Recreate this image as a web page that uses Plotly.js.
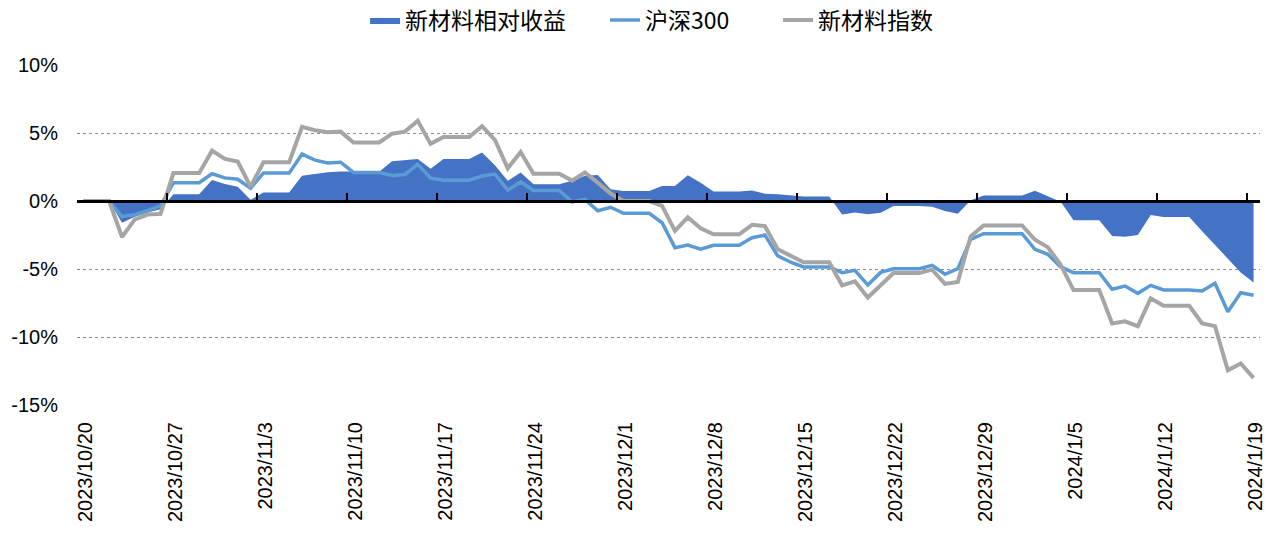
<!DOCTYPE html>
<html>
<head>
<meta charset="utf-8">
<script src="https://cdn.plot.ly/plotly-3.0.1.min.js"></script>
<style>
html,body{margin:0;padding:0;background:#fff;}
#chart{width:1269px;height:535px;}
</style>
</head>
<body>
<div id="chart"></div>
<script>
// Calendar days 2023/10/20 .. 2024/1/19 (weekend / holiday values carried)
const startDate = '2023-10-20';
const dayCount = 92;

const seriesNames = ['新材料相对收益', '沪深300', '新材料指数'];

// 新材料相对收益 (%)
const relReturn = [0, 0, 0,
  -1.6, -1.15, -0.85, -0.6, 0.5, 0.5, 0.5,
  1.55, 1.25, 1.05, 0.1, 0.62, 0.62, 0.62,
  1.85, 2.0, 2.12, 2.17, 2.15, 2.15, 2.15,
  2.93, 3.02, 3.08, 2.38, 3.08, 3.08, 3.08,
  3.57, 2.63, 1.48, 2.1, 1.23, 1.23, 1.23,
  1.48, 1.85, 1.92, 0.86, 0.74, 0.74, 0.74,
  1.1, 1.1, 1.9, 1.35, 0.7, 0.7, 0.7,
  0.78, 0.54, 0.49, 0.42, 0.33, 0.33, 0.33,
  -1.0, -0.85, -0.97, -0.86, -0.36, -0.36, -0.36,
  -0.42, -0.74, -0.93, 0.05, 0.4, 0.4, 0.4,
  0.4, 0.76, 0.38, -0.05, -1.42, -1.42, -1.42,
  -2.58, -2.63, -2.5, -1.03, -1.17, -1.17, -1.17,
  -2.22, -3.22, -4.3, -5.25, -6.0];

// 沪深300 (%)
const hs300 = [0, 0, 0,
  -1.15, -1.0, -0.7, -0.35, 1.35, 1.35, 1.35,
  2.0, 1.7, 1.6, 0.95, 2.05, 2.05, 2.05,
  3.45, 3.0, 2.8, 2.85, 2.1, 2.1, 2.1,
  1.88, 1.95, 2.7, 1.68, 1.53, 1.53, 1.53,
  1.84, 1.98, 0.8, 1.4, 0.77, 0.77, 0.77,
  -0.06, 0.12, -0.72, -0.46, -0.9, -0.9, -0.9,
  -1.6, -3.43, -3.24, -3.55, -3.26, -3.26, -3.26,
  -2.7, -2.5, -4.04, -4.5, -4.85, -4.85, -4.85,
  -5.27, -5.1, -6.18, -5.25, -4.98, -4.98, -4.98,
  -4.73, -5.39, -4.98, -2.82, -2.4, -2.4, -2.4,
  -2.4, -3.55, -3.92, -4.85, -5.27, -5.27, -5.27,
  -6.49, -6.25, -6.79, -6.2, -6.54, -6.54, -6.54,
  -6.62, -6.05, -8.14, -6.74, -6.93];

// 新材料指数 (%)
const newMaterial = [0, 0, 0,
  -2.65, -1.35, -1.0, -0.95, 2.05, 2.05, 2.05,
  3.7, 3.1, 2.9, 1.05, 2.85, 2.85, 2.85,
  5.45, 5.2, 5.05, 5.1, 4.3, 4.3, 4.3,
  4.95, 5.1, 5.9, 4.2, 4.7, 4.7, 4.7,
  5.5, 4.5, 2.4, 3.6, 2.0, 2.0, 2.0,
  1.5, 2.1, 1.35, 0.55, 0, 0, 0,
  -0.35, -2.2, -1.2, -2.0, -2.45, -2.45, -2.45,
  -1.75, -1.85, -3.55, -4.05, -4.5, -4.5, -4.5,
  -6.2, -5.9, -7.1, -6.15, -5.3, -5.3, -5.3,
  -5.05, -6.1, -5.95, -2.6, -1.8, -1.8, -1.8,
  -1.8, -2.85, -3.4, -4.7, -6.55, -6.55, -6.55,
  -9.0, -8.85, -9.2, -7.15, -7.7, -7.7, -7.7,
  -9.0, -9.2, -12.45, -11.95, -13.0];

const tickDates = ['2023-10-20','2023-10-27','2023-11-03','2023-11-10','2023-11-17','2023-11-24','2023-12-01',
  '2023-12-08','2023-12-15','2023-12-22','2023-12-29','2024-01-05','2024-01-12','2024-01-19'];
const tickLabels = ['2023/10/20','2023/10/27','2023/11/3','2023/11/10','2023/11/17','2023/11/24','2023/12/1',
  '2023/12/8','2023/12/15','2023/12/22','2023/12/29','2024/1/5','2024/1/12','2024/1/19'];

const yTicks = [10, 5, 0, -5, -10, -15];
const yTickLabels = ['10%', '5%', '0%', '-5%', '-10%', '-15%'];

// build calendar date list
const dates = [];
(function(){
  const p = startDate.split('-').map(Number);
  for (let i = 0; i < dayCount; i++) {
    const d = new Date(Date.UTC(p[0], p[1]-1, p[2] + i));
    dates.push(d.toISOString().slice(0,10));
  }
})();

const DAY = 86400000;
const common = {x: dates, xperiod: DAY, xperiodalignment: 'middle', hoverinfo: 'skip'};

const traces = [
  Object.assign({}, common, {
    type: 'scatter', mode: 'lines', name: seriesNames[0], y: relReturn, legend: 'legend',
    fill: 'tozeroy', fillcolor: '#4472C4', line: {width: 0, color: '#4472C4'}
  }),
  Object.assign({}, common, {
    type: 'scatter', mode: 'lines', name: seriesNames[1], y: hs300, legend: 'legend2',
    line: {width: 3.5, color: '#5B9BD5'}
  }),
  Object.assign({}, common, {
    type: 'scatter', mode: 'lines', name: seriesNames[2], y: newMaterial, legend: 'legend3',
    line: {width: 4, color: '#A5A5A5'}
  })
];

const xRange = ['2023-10-20', '2024-01-20'];
const fontNum = 'Liberation Sans, Arial, sans-serif';
const legendFont = {family: 'Noto Sans CJK SC, sans-serif', size: 23, color: '#000'};
function legendAt(x) {
  return {orientation: 'h', x: x, xanchor: 'left', y: 1.132, yanchor: 'middle',
    font: legendFont, bgcolor: 'rgba(0,0,0,0)', borderwidth: 0};
}

const layout = {
  width: 1269, height: 535,
  margin: {l: 77, r: 9, t: 65, b: 130, autoexpand: false},
  paper_bgcolor: '#fff', plot_bgcolor: '#fff',
  showlegend: true,
  legend: legendAt(0.2435),
  legend2: legendAt(0.4463),
  legend3: legendAt(0.5926),
  xaxis: {
    type: 'date', range: xRange, showgrid: false, zeroline: false, showline: false,
    tickmode: 'array', tickvals: tickDates, ticktext: tickLabels,
    tickangle: -90, ticks: '', ticklabelstandoff: 12, ticklabelshift: 8,
    tickfont: {family: fontNum, size: 20, color: '#000'}
  },
  xaxis2: {
    type: 'date', range: xRange, overlaying: 'x', anchor: 'free', position: 0.6,
    showline: true, linecolor: '#000', linewidth: 2.5, layer: 'above traces',
    tickmode: 'array', tickvals: tickDates, ticks: 'inside', ticklen: 7, tickwidth: 2, tickcolor: '#000',
    showticklabels: false, showgrid: false, zeroline: false
  },
  yaxis: {
    range: [-15, 10], tickmode: 'array', tickvals: yTicks, ticktext: yTickLabels,
    showgrid: true, gridcolor: '#8a8a8a', griddash: 'dot', gridwidth: 1,
    zeroline: false, showline: false, ticks: '', ticklabelstandoff: 18,
    tickfont: {family: fontNum, size: 20, color: '#000'}
  }
};

// dummy trace to activate xaxis2
traces.push({type: 'scatter', x: [dates[0]], y: [0], xaxis: 'x2', mode: 'lines',
  showlegend: false, hoverinfo: 'skip', line: {width: 0}, opacity: 0});

Plotly.newPlot('chart', traces, layout, {displayModeBar: false, staticPlot: true});
</script>
</body>
</html>
